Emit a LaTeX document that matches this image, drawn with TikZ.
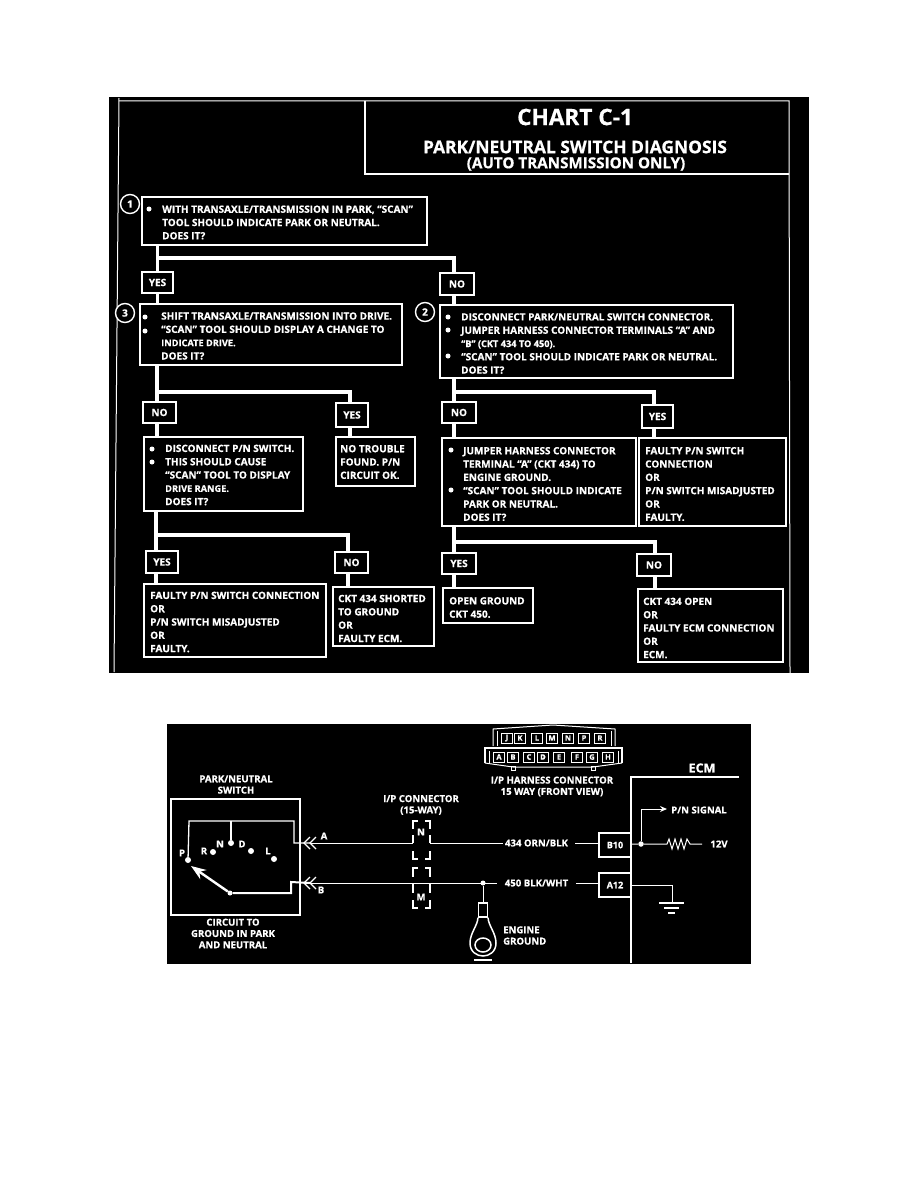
\documentclass[tikz,border=0pt]{standalone}
\usepackage{fontspec}
\setmainfont{Open Sans}[BoldFeatures={FakeBold=0.6}]
\usetikzlibrary{calc,arrows.meta}
\tikzset{
  x=1pt,y=-1pt,
  panel/.style={fill=black,draw=none},
  frameline/.style={draw=white,line width=1pt},
  ftext/.style={text=white,inner sep=0pt,align=left,anchor=west,font=\bfseries\fontsize{10}{13.3}\selectfont},
  ttext/.style={text=white,inner sep=0pt,align=center,font=\bfseries\fontsize{15.2}{17}\selectfont},
  stext/.style={text=white,inner sep=0pt,align=center,font=\bfseries\fontsize{9.6}{11.3}\selectfont},
  boxn/.style={draw=white,line width=1.2pt,fill=black,inner sep=0pt,text=white,font=\bfseries\fontsize{10}{12}\selectfont},
  flow/.style={draw=white,line width=3.2pt},
  wire/.style={draw=white,line width=1pt},
  heavy/.style={draw=white,line width=2pt},
  num/.style={circle,draw=white,line width=1.4pt,fill=black,minimum size=19pt,inner sep=0pt,text=white,font=\bfseries\fontsize{10}{12}\selectfont},
  cell/.style={draw=white,line width=.9pt,fill=black,inner sep=0pt,minimum width=11pt,minimum height=10pt,text=white,font=\bfseries\fontsize{7.5}{7.5}\selectfont},
  pin/.style={draw=white,line width=1.5pt,fill=black,inner sep=0pt,minimum width=32pt,minimum height=24pt,text=white,font=\bfseries\fontsize{9}{10}\selectfont},
  dot/.style={circle,fill=white,inner sep=0pt,minimum size=6pt},
}
\newcommand{\bx}[5]{% x1 y1 x2 y2 name
  \node[boxn,minimum width=#3pt-#1pt,minimum height=#4pt-#2pt] (#5) at ({(#1+#3)/2},{(#2+#4)/2}) {};}
\newcommand{\lbl}[6]{% name x1 y1 x2 y2 text
  \node[boxn,minimum width=#4pt-#2pt,minimum height=#5pt-#3pt] (#1) at ({(#2+#4)/2},{(#3+#5)/2}) {#6};}
\newcommand{\smalll}[1]{{\fontsize{9.2}{13.3}\selectfont #1}}
\begin{document}
\begin{tikzpicture}
\useasboundingbox (0,0) rectangle (918,1188);
\fill[white] (0,0) rectangle (918,1188);
% top panel
\fill[panel] (109,97) rectangle (809,673);
\draw[frameline] (119,98) -- (114,672);
\draw[frameline] (119,101) -- (789,101) -- (790,673);
\draw[frameline,line width=1.3pt] (365,101) -- (365,174) -- (789,174);
\node[ttext,font=\bfseries\fontsize{22.6}{26}\selectfont] (title) at (575,117) {CHART C-1};
\node[ttext,font=\bfseries\fontsize{17.4}{19}\selectfont] (title2) at (575,147) {PARK/NEUTRAL SWITCH DIAGNOSIS};
\node[ttext] (title3) at (576,164) {(AUTO TRANSMISSION ONLY)};
% junctions
\coordinate (j1a) at (157,258); \coordinate (j1b) at (454,258);
\coordinate (j2a) at (157,392); \coordinate (j2b) at (350,392);
\coordinate (j3a) at (454,392); \coordinate (j3b) at (654,392);
\coordinate (j4a) at (156,535); \coordinate (j4b) at (348,535);
\coordinate (j5a) at (454,542); \coordinate (j5b) at (655,542);
% boxes
\bx{142}{197}{427}{245}{b1}
\bx{140}{304}{402}{365}{b3}
\bx{440}{305}{733}{378}{b2}
\bx{144}{437}{303}{511}{b4}
\bx{336}{437}{415}{486}{b5}
\bx{144}{584}{326}{657}{b6}
\bx{333}{587}{434}{646}{b7}
\bx{442}{438}{636}{526}{b8}
\bx{639}{438}{786}{526}{b9}
\bx{443}{588}{533}{623}{b10}
\bx{638}{589}{783}{662}{b11}
\lbl{yes1}{142}{272}{173}{293}{YES}
\lbl{no1}{440}{273}{474}{295}{NO}
\lbl{no2}{143}{402}{176}{423}{NO}
\lbl{yes2}{336}{403}{368}{427}{YES}
\lbl{no3}{442}{402}{476}{423}{NO}
\lbl{yes3}{642}{405}{673}{428}{YES}
\lbl{yes4}{146}{551}{178}{573}{YES}
\lbl{no4}{335}{552}{368}{573}{NO}
\lbl{yes5}{442}{553}{476}{574}{YES}
\lbl{no5}{637}{554}{671}{576}{NO}
% connectors
\draw[flow] (b1.south -| yes1) -- (yes1.north);
\draw[flow] (yes1.south) -- (b3.north -| yes1);
\draw[flow] (j1a) -- (j1b) -- (no1.north -| j1b);
\draw[flow] (no1.south -| j1b) -- (b2.north -| j1b);
\draw[flow] (b3.south -| j2a) -- (no2.north -| j2a);
\draw[flow] (no2.south -| j2a) -- (b4.north -| j2a);
\draw[flow] (j2a) -- (j2b) -- (yes2.north -| j2b);
\draw[flow] (yes2.south -| j2b) -- (b5.north -| j2b);
\draw[flow] (b2.south -| j3a) -- (no3.north -| j3a);
\draw[flow] (no3.south -| j3a) -- (b8.north -| j3a);
\draw[flow] (j3a) -- (j3b) -- (yes3.north -| j3b);
\draw[flow] (yes3.south -| j3b) -- (b9.north -| j3b);
\draw[flow] (b4.south -| j4a) -- (yes4.north -| j4a);
\draw[flow] (yes4.south -| j4a) -- (b6.north -| j4a);
\draw[flow] (j4a) -- (j4b) -- (no4.north -| j4b);
\draw[flow] (no4.south -| j4b) -- (b7.north -| j4b);
\draw[flow] (b8.south -| j5a) -- (yes5.north -| j5a);
\draw[flow] (yes5.south -| j5a) -- (b10.north -| j5a);
\draw[flow] (j5a) -- (j5b) -- (no5.north -| j5b);
\draw[flow] (no5.south -| j5b) -- (b11.north -| j5b);
% numbers
\node[num] (n1) at (130,204) {1};
\node[num] (n3) at (125,313) {3};
\node[num] (n2) at (425,312) {2};
% bullets
\foreach \p in {(149,209),(145,317),(145,331),(448,317),(448,330),(448,356),(152,449),(152,462),(451,450),(451,490)}
  \fill[white] \p circle (2.5);
% box texts
\node[ftext] (t1) at (162,222.5) {WITH TRANSAXLE/TRANSMISSION IN PARK, ``SCAN''\\TOOL SHOULD INDICATE PARK OR NEUTRAL.\\DOES IT?};
\node[ftext] (t3) at (161,336) {SHIFT TRANSAXLE/TRANSMISSION  INTO DRIVE.\\``SCAN'' TOOL SHOULD DISPLAY A CHANGE TO\\\smalll{INDICATE DRIVE.}\\DOES IT?};
\node[ftext] (t2) at (461,343.5) {DISCONNECT PARK/NEUTRAL SWITCH CONNECTOR.\\JUMPER HARNESS CONNECTOR TERMINALS ``A'' AND\\\smalll{``B'' (CKT 434 TO 450).}\\``SCAN'' TOOL SHOULD INDICATE PARK OR NEUTRAL.\\DOES IT?};
\node[ftext] (t4) at (165,475) {DISCONNECT P/N SWITCH.\\THIS SHOULD CAUSE\\``SCAN'' TOOL TO DISPLAY\\\smalll{DRIVE RANGE.}\\DOES IT?};
\node[ftext] (t5) at (340,462) {NO TROUBLE\\FOUND.  P/N\\CIRCUIT OK.};
\node[ftext] (t6) at (150,622) {FAULTY P/N SWITCH CONNECTION\\OR\\P/N SWITCH MISADJUSTED\\OR\\FAULTY.};
\node[ftext] (t7) at (338,618.5) {CKT 434 SHORTED\\TO GROUND\\OR\\FAULTY ECM.};
\node[ftext] (t8) at (463,484) {JUMPER HARNESS CONNECTOR\\TERMINAL ``A'' (CKT 434) TO\\ENGINE GROUND.\\``SCAN'' TOOL SHOULD INDICATE\\PARK OR NEUTRAL.\\DOES IT?};
\node[ftext] (t9) at (645,484) {FAULTY P/N SWITCH\\CONNECTION\\OR\\P/N SWITCH MISADJUSTED\\OR\\FAULTY.};
\node[ftext] (t10) at (449,607.5) {OPEN GROUND\\CKT 450.};
\node[ftext] (t11) at (643,628) {CKT 434 OPEN\\OR\\FAULTY ECM CONNECTION\\OR\\ECM.};
% lower panel
\fill[panel] (167,724) rectangle (751,964);
% 15-way connector
\draw[wire] (493,746) -- (493,729) -- (553,725) -- (615,729) -- (615,746);
\draw[wire] (497,746) -- (497,731) (611,746) -- (611,731);
\draw[wire,line width=1.2pt] (485,763) -- (485,748) -- (622,748) -- (622,763);
\draw[wire] (489,763) -- (489,751) (618,763) -- (618,751);
\draw[wire] (485,763) -- (513,767) -- (593,767) -- (622,763);
\draw[wire] (511,766) rectangle (515,770) (591,766) rectangle (595,770);
\foreach \n/\x in {J/507,K/520,L/537,M/552,N/568,P/584,R/600}
  \node[cell] (top\n) at (\x,738) {\n};
\foreach \n/\x in {A/499,B/513,C/529,D/543,E/559,F/577,G/592,H/608}
  \node[cell] (bot\n) at (\x,757) {\n};
\node[stext] (hl) at (552,786.5) {I/P HARNESS CONNECTOR\\15 WAY (FRONT VIEW)};
% switch
\node[draw=white,line width=1.8pt,minimum width=129pt,minimum height=116pt,inner sep=0pt] (sw) at (235.5,857) {};
\node[stext] (swl) at (236,784.5) {PARK/NEUTRAL\\SWITCH};
\node[stext] (swb) at (233,933.5) {CIRCUIT TO\\GROUND IN PARK\\AND NEUTRAL};
\node[stext] (ipl) at (421,805) {I/P CONNECTOR\\(15-WAY)};
\node[dot] (cP) at (188,860) {};
\node[dot] (cR) at (213,852) {};
\node[dot] (cN) at (231,843) {};
\node[dot] (cD) at (251,851) {};
\node[dot] (cL) at (274,859) {};
\node[dot,minimum size=5pt] (piv) at (230,893) {};
\node[stext] (lP) at (182,853) {P};
\node[stext] (lR) at (204,851) {R};
\node[stext] (lN) at (220,844) {N};
\node[stext] (lD) at (242,844) {D};
\node[stext] (lL) at (268,851) {L};
\node[stext] (lA) at (324,836) {A};
\node[stext] (lB) at (321,890) {B};
\coordinate (up1) at (189,821); \coordinate (up2) at (294,821); \coordinate (up3) at (231,821);
\coordinate (chA) at (310,843); \coordinate (chB) at (310,883);
\draw[wire,line width=1.3pt] (cP) -- (up1) -- (up2) -- (294,843) -- (chA);
\draw[heavy] (up3) -- (cN);
\draw[heavy,line width=2.4pt,-{Stealth[length=15pt,width=11pt]}] (piv) -- (191,866);
\draw[heavy] (piv) -- (291,893) -- (291,882) -- (chB);
\foreach \c in {chA,chB}{
  \draw[wire,line width=1.2pt] ($(\c)+(6,-6)$) -- (\c) -- ($(\c)+(6,6)$);
  \draw[wire,line width=1.2pt] ($(\c)+(0,-6)$) -- ($(\c)+(-6,0)$) -- ($(\c)+(0,6)$);
}
% I/P connector
\coordinate (N1) at (413,843); \coordinate (N2) at (430,843);
\node[stext] (lNN) at (421,832) {N};
\node[stext] (lMM) at (421,897) {M};
\draw[wire] (chA) -- (N1);
\draw[wire,line width=1.3pt] (418,821) -- (413,821) -- (413,829) (413,835) -- (N1)
  (425,821) -- (430,821) -- (430,829) (430,835) -- (N2)
  (413,851) -- (413,859) -- (418,859) (430,851) -- (430,859) -- (425,859)
  (418,868) -- (413,868) -- (413,877) (425,868) -- (430,868) -- (430,877)
  (413,883) -- (413,893) (430,883) -- (430,893)
  (413,900) -- (413,908) -- (418,908) (430,900) -- (430,908) -- (425,908);
% ECM
\node[ttext,font=\bfseries\fontsize{12.5}{13}\selectfont] (ecm) at (702,768) {ECM};
\coordinate (e1) at (739,777); \coordinate (e2) at (631,777); \coordinate (e3) at (631,963);
\draw[heavy] (e1) -- (e2) -- (e3);
\node[pin] (B10) at (615,845) {B10};
\node[pin] (A12) at (615,885) {A12};
\node[stext] (w434) at (536.5,843) {434 ORN/BLK};
\node[stext] (w450) at (536.5,883) {450 BLK/WHT};
\coordinate (w1a) at (503,843); \coordinate (w1b) at (575,843);
\coordinate (w2a) at (497,883); \coordinate (w2b) at (576,883);
\draw[wire] (N2) -- (w1a);
\draw[wire] (w1b) -- (B10.west |- w1b);
\coordinate (g0) at (483,883);
\draw[wire] (chB) -- (w2a);
\draw[wire] (w2b) -- (A12.west |- w2b);
\node[dot,minimum size=5pt] (gj) at (g0) {};
% B10 right side
\node[dot,minimum size=5.5pt] (sj) at (641,844) {};
\coordinate (pn0) at (631,844);
\coordinate (res1) at (667,844); \coordinate (res2) at (690,844); \coordinate (v12) at (702,844);
\draw[wire] (pn0) -- (sj) -- (res1) -- (669,839) -- (672,849) -- (675,839) -- (678,849) -- (681,839) -- (684,849) -- (687,839) -- (res2) -- (v12);
\node[stext] (l12) at (719,844) {12V};
\node[stext,anchor=west] (pnl) at (671,810) {P/N SIGNAL};
\coordinate (pn1) at (641,809); \coordinate (pn2) at (667,809);
\draw[wire,-{Stealth[length=7pt,width=6pt]}] (sj) -- (pn1) -- (pn2);
% A12 ground
\coordinate (ga) at (A12.east); \coordinate (gb) at (672,885); \coordinate (gc) at (672,903);
\draw[wire] (ga) -- (gb) -- (gc);
\draw[wire,line width=1.3pt] (659,903) -- (684,903) (664,908) -- (679,908) (668,913) -- (675,913);
% engine ground
\coordinate (eg1) at (483,903);
\draw[wire] (gj) -- (eg1);
\node[draw=white,line width=1.2pt,minimum width=9pt,minimum height=14pt,inner sep=0pt] (lug) at (483,910) {};
\draw[wire,line width=1.5pt] (lug.south west) .. controls (478,925) and (470,933) .. (470,943) .. controls (470,952) and (477,956) .. (483,956) .. controls (489,956) and (496,952) .. (496,943) .. controls (496,933) and (488,925) .. (lug.south east);
\draw[wire,line width=1.5pt] (483,945) ellipse (8 and 7);
\draw[wire,line width=1.2pt] (474,960) -- (492,960);
\node[stext,align=left,anchor=west] (egl) at (503,935.5) {ENGINE\\GROUND};
\end{tikzpicture}
\end{document}
